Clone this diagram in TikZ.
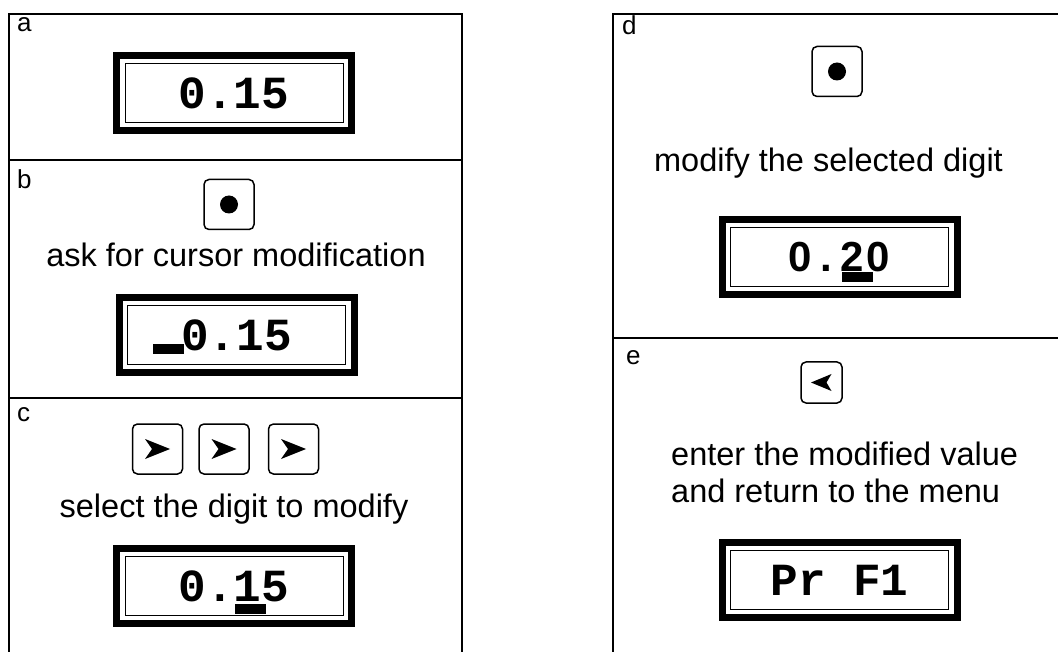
\documentclass[tikz,border=0pt]{standalone}
\usepackage{fontspec}
\setmainfont{Liberation Sans}
\newfontfamily\lcdfont{Liberation Mono}
\newfontfamily\lcdsans{Liberation Sans}
\usetikzlibrary{positioning}
\newcommand\lcdcell[1]{\makebox[26pt]{#1}}
\begin{document}
\begin{tikzpicture}[x=1pt,y=-1pt]
    \tikzstyle{frame}=[line width=2pt]
    \tikzstyle{lcd}=[draw, line width=7pt, minimum width=235pt, minimum height=75pt, inner sep=0pt]
    \tikzstyle{lcdin}=[draw, line width=0.8pt, minimum width=218pt, minimum height=59pt, inner sep=0pt, font=\lcdfont\bfseries\fontsize{46}{46}\selectfont]
    \tikzstyle{key}=[draw, line width=1.5pt, rounded corners=5pt, minimum size=50pt, inner sep=0pt]
    \tikzstyle{cursor}=[fill, minimum width=31pt, minimum height=10pt, inner sep=0pt]
    \tikzstyle{caption}=[font=\fontsize{32.5}{32.5}\selectfont, anchor=base, inner sep=0pt]
    \tikzstyle{tag}=[font=\fontsize{26}{26}\selectfont, anchor=base west, inner sep=0pt]
    \useasboundingbox (0,0) rectangle (1058,652);
    % left column
    \draw[frame] (9,652) -- (9,14) -- (462,14) -- (462,652);
    \draw[frame] (9,160) -- (462,160);
    \draw[frame] (9,398) -- (462,398);
    % right column
    \draw[frame] (613,652) -- (613,14) -- (1058,14);
    \draw[frame] (613,338) -- (1058,338);
    % a
    \node[tag] (ta) at (17,32) {a};
    \node[lcd] (la) at (234,93) {};
    \node[lcdin] (da) at (la) {0.15};
    % b
    \node[tag] (tb) at (17,189) {b};
    \node[key] (kb) at (229,204.5) {};
    \fill (kb.center) circle[radius=9];
    \node[caption] (cb) at (236,267) {ask for cursor modification};
    \node[lcd] (lb) at (236.5,335) {};
    \node[lcdin] (db) at (lb) {0.15};
    \node[cursor] (ub) at (168,349.5) {};
    % c
    \node[tag] (tc) at (17,421) {c};
    \foreach \i/\x in {1/157.5,2/224,3/293.5} {
      \node[key] (kc\i) at (\x,449) {};
      \fill[shift={(kc\i.center)}] (12.5,0) -- (-12.5,-10) -- (-5.5,0) -- (-12.5,10) -- cycle;
    }
    \node[caption] (cc) at (234,517) {select the digit to modify};
    \node[lcd] (lc) at (234,586) {};
    \node[lcdin] (dc) at (lc) {0.15};
    \node[cursor] (uc) at (250,608.5) {};
    % d
    \node[tag] (td) at (622,35) {d};
    \node[key] (kd) at (837,71.5) {};
    \fill (kd.center) circle[radius=9];
    \node[caption] (cd) at (828.5,172) {modify the selected digit};
    \node[lcd] (ld) at (839.5,257) {};
    \node[lcdin, font=\lcdsans\bfseries\fontsize{42}{42}\selectfont] (dd) at (ld) {\lcdcell{0}\lcdcell{.}\lcdcell{2}\lcdcell{0}};
    \node[cursor] (ud) at (857.5,277) {};
    % e
    \node[tag] (te) at (626,365) {e};
    \node[key, minimum size=41pt] (ke) at (821.5,382.5) {};
    \fill[shift={(ke.center)}] (-10.5,0) -- (10,-8.5) -- (5,0) -- (10,8.5) -- cycle;
    \node[caption, anchor=base west] (ce1) at (671,465) {enter the modified value};
    \node[caption, anchor=base west] (ce2) at (671,502) {and return to the menu};
    \node[lcd] (le) at (839.5,580) {};
    \node[lcdin] (de) at (le) {Pr F1};
\end{tikzpicture}
\end{document}
